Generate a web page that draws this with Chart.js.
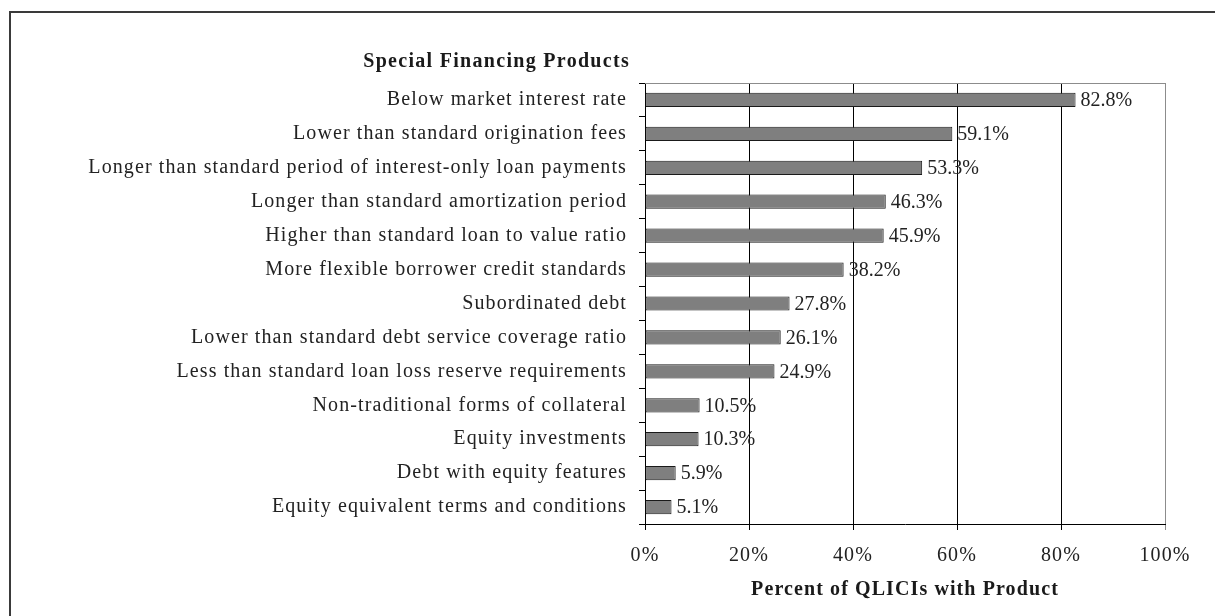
<!DOCTYPE html>
<html>
<head>
<meta charset="utf-8">
<script src="https://cdn.jsdelivr.net/npm/chart.js@4.4.0/dist/chart.umd.min.js"></script>
<style>
  html, body { margin: 0; padding: 0; background: #fff; }
  body { width: 1215px; height: 616px; position: relative; overflow: hidden; }
  #frame { position: absolute; left: 9px; top: 11px; width: 1300px; height: 700px;
           border-left: 2px solid #3a3a3a; border-top: 2px solid #3a3a3a; }
  #wrap { position: absolute; left: 0; top: 0; width: 1215px; height: 616px; }
</style>
</head>
<body>
<div id="frame"></div>
<div id="wrap"><canvas id="productsChart" width="1215" height="616"></canvas></div>
<script>
// chart data
const categories = [
    'Below market interest rate',
    'Lower than standard origination fees',
    'Longer than standard period of interest-only loan payments',
    'Longer than standard amortization period',
    'Higher than standard loan to value ratio',
    'More flexible borrower credit standards',
    'Subordinated debt',
    'Lower than standard debt service coverage ratio',
    'Less than standard loan loss reserve requirements',
    'Non-traditional forms of collateral',
    'Equity investments',
    'Debt with equity features',
    'Equity equivalent terms and conditions'
];
const percentWithProduct = [82.8, 59.1, 53.3, 46.3, 45.9, 38.2, 27.8, 26.1, 24.9, 10.5, 10.3, 5.9, 5.1];
const xTicks = [0, 20, 40, 60, 80, 100];
const chartTitle = 'Special Financing Products';
const axisTitle = 'Percent of QLICIs with Product';

const serif = '"Liberation Serif", "Times New Roman", serif';

// the original text is set a little wider than the canvas font
const spacing = {
    id: 'spacing',
    beforeDraw(chart) {
        chart.ctx.letterSpacing = '1.1px';
    }
};

// value labels at the end of each bar
const barLabels = {
    id: 'barLabels',
    afterDatasetsDraw(chart) {
        const ctx = chart.ctx;
        const meta = chart.getDatasetMeta(0);
        ctx.save();
        ctx.letterSpacing = '0px';
        ctx.font = '20px ' + serif;
        ctx.fillStyle = '#222';
        ctx.textAlign = 'left';
        ctx.textBaseline = 'middle';
        meta.data.forEach((bar, i) => {
            ctx.fillText(percentWithProduct[i].toFixed(1) + '%', bar.x + 5, bar.y + 1);
        });
        ctx.restore();
    }
};

// title above the labels and the top edge of the plot
const extras = {
    id: 'extras',
    afterDraw(chart) {
        const ctx = chart.ctx;
        const area = chart.chartArea;
        ctx.save();
        ctx.strokeStyle = '#8c8c8c';
        ctx.lineWidth = 1;
        ctx.beginPath();
        ctx.moveTo(area.left, area.top + 0.5);
        ctx.lineTo(area.right, area.top + 0.5);
        ctx.stroke();
        ctx.letterSpacing = '1.3px';
        ctx.font = 'bold 20px ' + serif;
        ctx.fillStyle = '#1a1a1a';
        ctx.textAlign = 'right';
        ctx.textBaseline = 'middle';
        ctx.fillText(chartTitle, 630, 62);
        ctx.restore();
    }
};

const ctx = document.getElementById('productsChart').getContext('2d');
const productsChart = new Chart(ctx, {
    type: 'bar',
    data: {
        labels: categories,
        datasets: [{
            data: percentWithProduct,
            backgroundColor: '#7f7f7f',
            borderColor: '#1a1a1a',
            borderWidth: 1,
            borderSkipped: false,
            categoryPercentage: 1,
            barPercentage: 0.42
        }]
    },
    options: {
        indexAxis: 'y',
        responsive: false,
        animation: false,
        layout: { padding: { top: 83, right: 50, left: 0, bottom: 0 } },
        plugins: {
            legend: { display: false },
            tooltip: { enabled: false }
        },
        scales: {
            x: {
                min: 0,
                max: 100,
                afterFit(scale) { scale.height = 92; },
                afterBuildTicks(scale) { scale.ticks = xTicks.map(v => ({ value: v })); },
                ticks: {
                    padding: 14,
                    color: '#222',
                    font: { family: serif, size: 20 },
                    callback: v => v + '%'
                },
                grid: {
                    color: c => (c.tick && c.tick.value === 100) ? '#8c8c8c' : '#000',
                    lineWidth: 1,
                    tickLength: 6
                },
                border: { display: true, color: '#000', width: 1 },
                title: {
                    display: true,
                    text: axisTitle,
                    color: '#1a1a1a',
                    font: { family: serif, size: 20, weight: 'bold' },
                    padding: { top: 0, bottom: 14 }
                }
            },
            y: {
                afterFit(scale) { scale.width = 645; },
                ticks: {
                    autoSkip: false,
                    padding: 12,
                    color: '#222',
                    font: { family: serif, size: 20 }
                },
                grid: {
                    drawOnChartArea: false,
                    color: '#000',
                    tickLength: 6
                },
                border: { display: true, color: '#000', width: 1 }
            }
        }
    },
    plugins: [spacing, barLabels, extras]
});
</script>
</body>
</html>
